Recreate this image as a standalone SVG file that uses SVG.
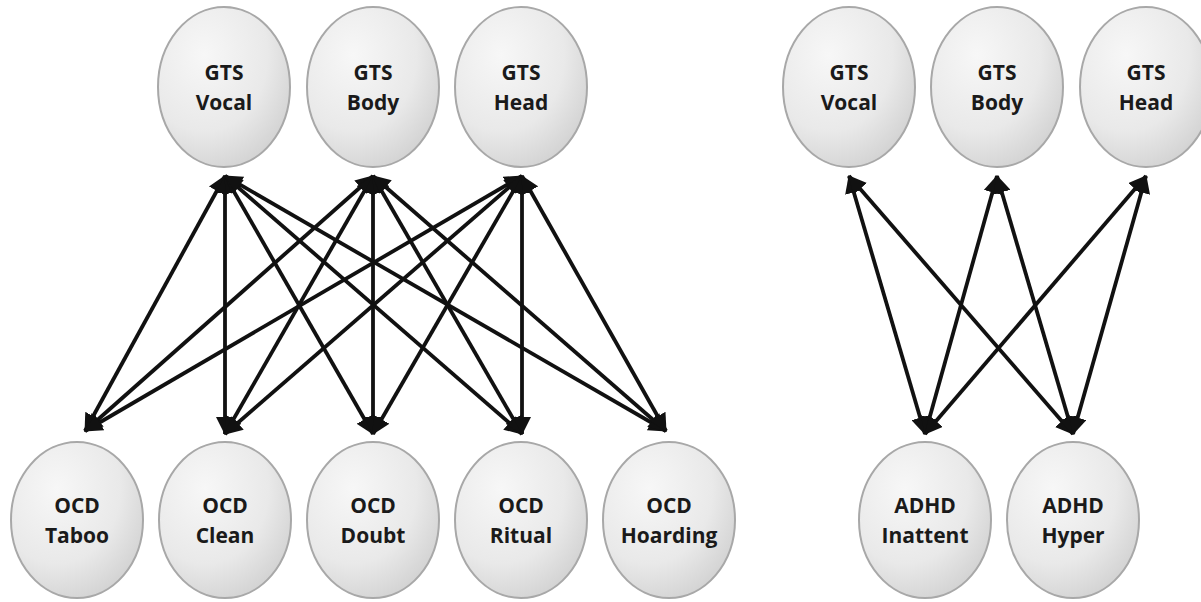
<svg xmlns="http://www.w3.org/2000/svg" width="1201" height="602" viewBox="0 0 1201 602">
<defs>
<radialGradient id="g" cx="0.35" cy="0.3" r="0.8">
<stop offset="0" stop-color="#f7f7f7"/>
<stop offset="0.6" stop-color="#e9e9e9"/>
<stop offset="1" stop-color="#cfcfcf"/>
</radialGradient>
<marker id="ah" viewBox="0 0 18 18" refX="17" refY="9" markerWidth="18" markerHeight="18" markerUnits="userSpaceOnUse" orient="auto-start-reverse">
<path d="M0,0 L18,9 L0,18 Z" fill="#111"/>
</marker>
<style>
.n ellipse{fill:url(#g);stroke:#a8a8a8;stroke-width:2}
.n text{font-family:"Open Sans","DejaVu Sans",sans-serif;font-weight:bold;font-size:21px;fill:#1a1a1a;text-anchor:middle}
.c line{stroke:#111;stroke-width:3.8;marker-start:url(#ah);marker-end:url(#ah)}
</style>
</defs>
<rect width="1201" height="602" fill="#fff"/>
<g class="c" id="connectors">
<line x1="225" y1="176" x2="85" y2="431"/>
<line x1="225" y1="176" x2="225" y2="434"/>
<line x1="225" y1="176" x2="373" y2="434"/>
<line x1="225" y1="176" x2="522" y2="434"/>
<line x1="225" y1="176" x2="666" y2="431"/>
<line x1="373" y1="176" x2="85" y2="431"/>
<line x1="373" y1="176" x2="225" y2="434"/>
<line x1="373" y1="176" x2="373" y2="434"/>
<line x1="373" y1="176" x2="522" y2="434"/>
<line x1="373" y1="176" x2="666" y2="431"/>
<line x1="522" y1="176" x2="85" y2="431"/>
<line x1="522" y1="176" x2="225" y2="434"/>
<line x1="522" y1="176" x2="373" y2="434"/>
<line x1="522" y1="176" x2="522" y2="434"/>
<line x1="522" y1="176" x2="666" y2="431"/>
<line x1="849" y1="176" x2="925" y2="434"/>
<line x1="849" y1="176" x2="1073" y2="434"/>
<line x1="997" y1="176" x2="925" y2="434"/>
<line x1="997" y1="176" x2="1073" y2="434"/>
<line x1="1146" y1="176" x2="925" y2="434"/>
<line x1="1146" y1="176" x2="1073" y2="434"/>
</g>
<g class="n" id="l-gts-vocal"><ellipse cx="224" cy="87" rx="66" ry="80"/><text x="224" y="80">GTS</text><text x="224" y="110">Vocal</text></g>
<g class="n" id="l-gts-body"><ellipse cx="373" cy="87" rx="66" ry="80"/><text x="373" y="80">GTS</text><text x="373" y="110">Body</text></g>
<g class="n" id="l-gts-head"><ellipse cx="521" cy="87" rx="66" ry="80"/><text x="521" y="80">GTS</text><text x="521" y="110">Head</text></g>
<g class="n" id="ocd-taboo"><ellipse cx="77" cy="520" rx="66" ry="78"/><text x="77" y="513">OCD</text><text x="77" y="543">Taboo</text></g>
<g class="n" id="ocd-clean"><ellipse cx="225" cy="520" rx="66" ry="78"/><text x="225" y="513">OCD</text><text x="225" y="543">Clean</text></g>
<g class="n" id="ocd-doubt"><ellipse cx="373" cy="520" rx="66" ry="78"/><text x="373" y="513">OCD</text><text x="373" y="543">Doubt</text></g>
<g class="n" id="ocd-ritual"><ellipse cx="521" cy="520" rx="66" ry="78"/><text x="521" y="513">OCD</text><text x="521" y="543">Ritual</text></g>
<g class="n" id="ocd-hoarding"><ellipse cx="669" cy="520" rx="66" ry="78"/><text x="669" y="513">OCD</text><text x="669" y="543">Hoarding</text></g>
<g class="n" id="r-gts-vocal"><ellipse cx="849" cy="87" rx="66" ry="80"/><text x="849" y="80">GTS</text><text x="849" y="110">Vocal</text></g>
<g class="n" id="r-gts-body"><ellipse cx="997" cy="87" rx="66" ry="80"/><text x="997" y="80">GTS</text><text x="997" y="110">Body</text></g>
<g class="n" id="r-gts-head"><ellipse cx="1146" cy="87" rx="66" ry="80"/><text x="1146" y="80">GTS</text><text x="1146" y="110">Head</text></g>
<g class="n" id="adhd-inattent"><ellipse cx="925" cy="520" rx="66" ry="78"/><text x="925" y="513">ADHD</text><text x="925" y="543">Inattent</text></g>
<g class="n" id="adhd-hyper"><ellipse cx="1073" cy="520" rx="66" ry="78"/><text x="1073" y="513">ADHD</text><text x="1073" y="543">Hyper</text></g>
</svg>
